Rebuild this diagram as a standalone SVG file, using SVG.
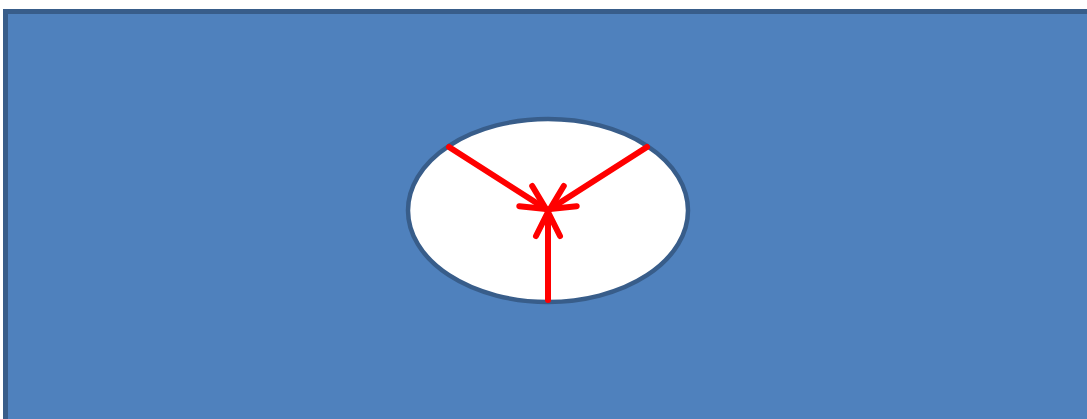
<svg xmlns="http://www.w3.org/2000/svg" width="1087" height="419" viewBox="0 0 1087 419">
  <style>
    .bg { fill: #4F81BD; stroke: #385D8A; stroke-width: 5; }
    .hole { fill: #FFFFFF; stroke: #385D8A; stroke-width: 4.5; }
    .arrow { fill: none; stroke: #FF0000; stroke-width: 6; stroke-linecap: round; stroke-linejoin: round; }
  </style>
  <defs>
    <marker id="head" markerUnits="userSpaceOnUse" refX="0" refY="0" markerWidth="40" markerHeight="40" orient="auto" overflow="visible">
      <path d="M -24 -12 L 0 0 L -24 12" fill="none" stroke="#FF0000" stroke-width="6" stroke-linecap="round" stroke-linejoin="round"/>
    </marker>
  </defs>
  <rect width="1087" height="419" fill="#FFFFFF"/>
  <g id="plate">
    <rect class="bg" x="5.5" y="11.5" width="1100" height="430"/>
  </g>
  <g id="opening">
    <ellipse class="hole" cx="548" cy="210.5" rx="140" ry="91.5"/>
  </g>
  <g id="connectors">
    <line class="arrow" x1="449" y1="147" x2="546" y2="209" marker-end="url(#head)"/>
    <line class="arrow" x1="647" y1="147" x2="550" y2="209" marker-end="url(#head)"/>
    <line class="arrow" x1="548" y1="300" x2="548" y2="212" marker-end="url(#head)"/>
  </g>
</svg>
